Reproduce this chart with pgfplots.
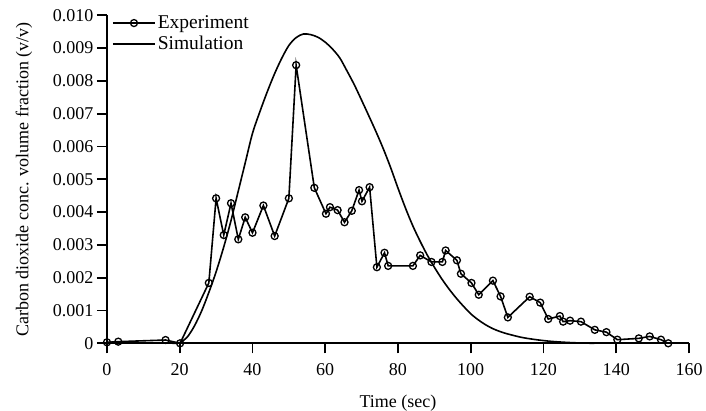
\documentclass[border=0pt]{standalone}
\usepackage{fontspec}
\setmainfont{Liberation Serif}
\usepackage{pgfplots}
\pgfplotsset{compat=1.18}
\begin{document}
\begin{tikzpicture}[font=\fontsize{18}{21}\selectfont]
\begin{axis}[
  scale only axis, width=582pt, height=328pt,
  xmin=0, xmax=160, ymin=0, ymax=0.010,
  axis lines=left, axis line style={line width=2pt, -},
  xtick={0,20,40,60,80,100,120,140,160},
  ytick={0,0.001,0.002,0.003,0.004,0.005,0.006,0.007,0.008,0.009,0.010},
  yticklabels={0,0.001,0.002,0.003,0.004,0.005,0.006,0.007,0.008,0.009,0.010},
  scaled y ticks=false,
  tick align=outside, major tick length=10pt,
  tick style={line width=1.8pt, black},
  xticklabel style={yshift=-7pt},
  /pgf/number format/assume math mode=true,
  xlabel={Time (sec)},
  ylabel={Carbon dioxide conc. volume fraction (v/v)},
  xlabel style={at={(axis description cs:0.5,-0.182)}, anchor=center},
  ylabel style={at={(axis description cs:-0.1426,0.5)}, anchor=center},
  clip=false,
  legend style={draw=none, fill=none, font=\fontsize{19.5}{22}\selectfont, at={(axis description cs:0.0086,1.005)}, anchor=north west, inner sep=0pt, row sep=2pt},
  legend cell align=left,
  legend image code/.code={\draw[mark repeat=2,mark phase=2,#1] plot coordinates {(0pt,0pt) (21pt,0pt) (42pt,0pt)};},
]
\addplot[black, line width=1.6pt, mark=o, mark size=3.5pt, mark options={fill=white, line width=1.3pt}] coordinates {
(0,0.00003) (3.1,0.00005) (16.1,0.0001) (20.1,0) (28,0.00184) (30,0.00442) (32.1,0.0033) (34.1,0.00427)
(36.1,0.00317) (38,0.00384) (40,0.00337) (43,0.0042) (46.1,0.00327) (50,0.00442) (52,0.00848)
(57,0.00474) (60.2,0.00395) (61.3,0.00415) (63.4,0.00406) (65.3,0.00369) (67.3,0.00404) (69.3,0.00467)
(70.1,0.00433) (72.2,0.00476) (74.2,0.00232) (76.3,0.00276) (77.3,0.00236) (84.1,0.00236) (86.1,0.00268)
(89.2,0.00248) (92.2,0.00248) (93.1,0.00283) (96.2,0.00253) (97.3,0.00212) (100.2,0.00184) (102.2,0.00148)
(106.1,0.00191) (108.2,0.00143) (110.2,0.00079) (116.2,0.00142) (119.1,0.00124) (121.3,0.00074)
(124.5,0.00083) (125.4,0.00066) (127.3,0.00069) (130.3,0.00066) (134.1,0.00041) (137.3,0.00034)
(140.3,0.00011) (146.2,0.00015) (149.2,0.00021) (152.3,0.00011) (154.3,0)
};
\addlegendentry{Experiment}
\addplot[black, line width=1.6pt, smooth, tension=0.5] coordinates {
(18,0) (20,0.00002) (22,0.00018) (24,0.00052) (26,0.00098) (28,0.00155) (30,0.00218) (32,0.0029)
(34,0.0037) (36,0.0046) (38,0.0055) (40,0.0064) (42,0.00705) (44,0.00765) (46,0.0082) (48,0.00868)
(50,0.00908) (52,0.00932) (54,0.00943) (56,0.00941) (58,0.00933) (60,0.00918) (62,0.00897) (64,0.0087)
(66,0.0083) (68,0.00788) (70,0.00741) (72,0.00693) (74,0.00644) (76,0.00592) (78,0.00535) (80,0.00473)
(82,0.00414) (84,0.0036) (86,0.00313) (88,0.0027) (90,0.00232) (92,0.00197) (94,0.00166) (96,0.00138)
(98,0.00113) (100,0.0009) (102,0.00072) (104,0.00057) (106,0.00045) (108,0.00036) (110,0.00029)
(114,0.00018) (118,0.00011) (122,0.00006) (126,0.00003) (130,0.00001) (134,0)
};
\addlegendentry{Simulation}
\coordinate (bbl) at (axis description cs:-0.1838,-0.2064);
\coordinate (btr) at (axis description cs:1.0292,1.0466);
\end{axis}
\pgfresetboundingbox
\useasboundingbox (bbl) rectangle (btr);
\end{tikzpicture}
\end{document}
